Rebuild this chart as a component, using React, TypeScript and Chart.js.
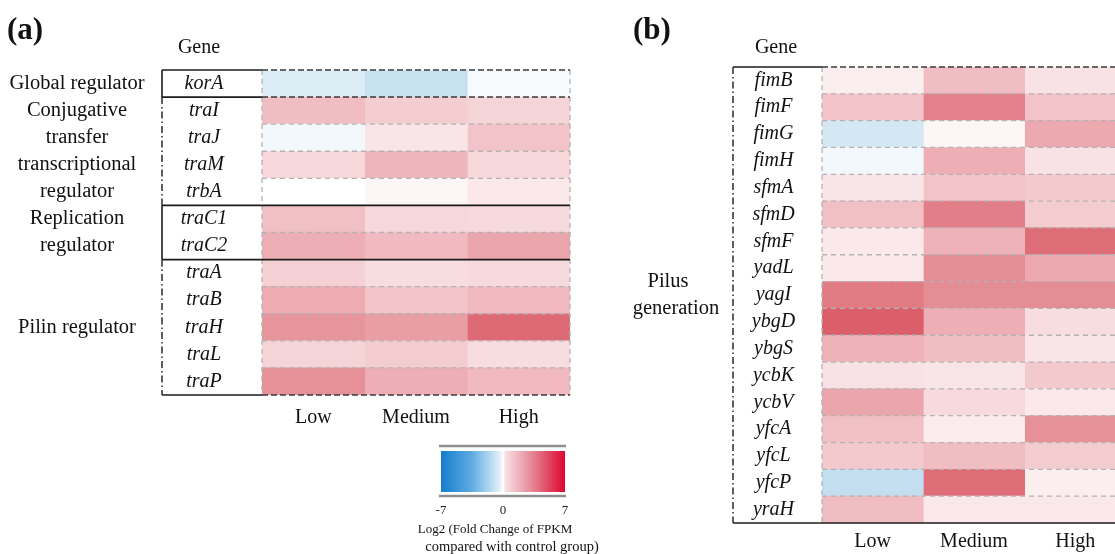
import React, { useEffect, useRef } from 'react';
import { Chart, registerables } from 'chart.js';

Chart.register(...registerables);

const SERIF = '"Liberation Serif", "Times New Roman", serif';

// column categories
const LEVELS = ['Low', 'Medium', 'High'];

// ---------- panel (a) ----------
const GENES_A = ['korA', 'traI', 'traJ', 'traM', 'trbA', 'traC1', 'traC2', 'traA', 'traB', 'traH', 'traL', 'traP'];
const LOW_A = [-1.1, 2.3, -0.4, 1.4, 0.0, 2.2, 2.8, 1.6, 2.9, 3.7, 1.5, 3.9];
const MEDIUM_A = [-1.8, 1.75, 0.9, 2.6, 0.3, 1.4, 2.4, 1.2, 2.1, 3.4, 1.8, 2.8];
const HIGH_A = [-0.3, 1.5, 2.1, 1.4, 0.8, 1.3, 3.1, 1.3, 2.4, 5.2, 1.2, 2.4];
const GROUPS_A = [
  { lines: ['Global regulator'], from: 0, to: 0, edge: 'solid' },
  { lines: ['Conjugative', 'transfer', 'transcriptional', 'regulator'], from: 1, to: 4, edge: 'dashdot' },
  { lines: ['Replication', 'regulator'], from: 5, to: 6, edge: 'solid' },
  { lines: ['Pilin regulator'], from: 7, to: 11, edge: 'dashdot' },
];
const RULES_A = [
  { at: 0, label: 'solid', heat: 'dash' },
  { at: 1, label: 'solid', heat: 'dash' },
  { at: 5, label: 'solid', heat: 'solid' },
  { at: 7, label: 'solid', heat: 'solid' },
  { at: 12, label: 'solid', heat: 'dash' },
];

// ---------- panel (b) ----------
const GENES_B = ['fimB', 'fimF', 'fimG', 'fimH', 'sfmA', 'sfmD', 'sfmF', 'yadL', 'yagI', 'ybgD', 'ybgS', 'ycbK', 'ycbV', 'yfcA', 'yfcL', 'yfcP', 'yraH'];
const LOW_B = [0.6, 2.1, -1.4, -0.4, 0.9, 2.2, 0.8, 0.8, 4.6, 5.6, 2.7, 1.0, 3.1, 2.2, 1.9, -2.0, 2.3];
const MEDIUM_B = [2.3, 4.4, 0.3, 2.8, 2.1, 4.5, 2.7, 4.0, 4.0, 2.8, 2.3, 0.9, 1.3, 0.7, 2.3, 5.1, 0.8];
const HIGH_B = [1.0, 2.1, 3.0, 1.0, 1.9, 1.8, 5.1, 3.0, 4.0, 1.2, 0.9, 1.9, 0.8, 3.9, 1.8, 0.6, 0.8];
const GROUPS_B = [
  { lines: ['Pilus', 'generation'], from: 0, to: 16, edge: 'dashdot' },
];
const RULES_B = [
  { at: 0, label: 'solid', heat: 'dash' },
  { at: 17, label: 'solid', heat: 'solid' },
];

// ---------- colour scale ----------
const SCALE_RANGE = [-7, 7];
const SCALE_TICKS = [-7, 0, 7];
const SCALE_TITLE = ['Log2 (Fold Change of FPKM', 'compared with control group)'];
const COLORBAR_STOPS: [number, string][] = [
  [-7, 'rgb(20,126,204)'],
  [-3.5, 'rgb(96,172,226)'],
  [-0.3, 'rgb(228,241,249)'],
  [0, 'rgb(255,255,255)'],
  [0.3, 'rgb(247,222,226)'],
  [3.5, 'rgb(228,128,143)'],
  [7, 'rgb(222,6,45)'],
];
const CELL_POS = [210, 55, 70];
const CELL_NEG = [40, 140, 200];

function cellColor(v: number) {
  const t = Math.min(1, Math.abs(v) / SCALE_RANGE[1]);
  const end = v >= 0 ? CELL_POS : CELL_NEG;
  const c = end.map((ch) => Math.round(255 + (ch - 255) * t));
  return `rgb(${c[0]},${c[1]},${c[2]})`;
}

const LINE_STYLES: any = {
  solid: { color: '#1b1b1b', width: 1.6, dash: [] },
  dash: { color: '#3a3a3a', width: 1.5, dash: [6, 3] },
  gray: { color: '#b3b3b3', width: 1.3, dash: [5, 4] },
  dashdot: { color: '#2a2a2a', width: 1.5, dash: [7, 3, 1.5, 3] },
};

function widestLabel(labels: string[], font: string) {
  const c = document.createElement('canvas').getContext('2d')!;
  c.font = font;
  return Math.max(...labels.map((l) => c.measureText(l).width));
}

function heatConfig(p: any): any {
  const widest = widestLabel(p.genes, `italic 20px ${SERIF}`);
  const yPad = Math.max(0, p.labelW / 2 - widest / 2 - p.geneNudge);
  const decor = {
    id: 'heatDecor',
    afterDraw(chart: any) {
      const { ctx, chartArea: ca } = chart;
      const y = chart.scales.y;
      const n = p.genes.length;
      const rowH = (ca.bottom - ca.top) / n;
      const edge = (i: number) => (i < n ? y.getPixelForValue(i) - rowH / 2 : y.getPixelForValue(n - 1) + rowH / 2);
      const left = y.left;
      const stroke = (x1: number, y1: number, x2: number, y2: number, name: string) => {
        const s = LINE_STYLES[name];
        ctx.save();
        ctx.strokeStyle = s.color;
        ctx.lineWidth = s.width;
        ctx.setLineDash(s.dash);
        ctx.beginPath();
        ctx.moveTo(x1, y1);
        ctx.lineTo(x2, y2);
        ctx.stroke();
        ctx.restore();
      };
      const ruled = new Set(p.rules.map((r: any) => r.at));
      for (let i = 1; i < n; i++) if (!ruled.has(i)) stroke(ca.left, edge(i), ca.right, edge(i), 'gray');
      stroke(ca.left, ca.top, ca.left, ca.bottom, 'gray');
      stroke(ca.right, ca.top, ca.right, ca.bottom, 'gray');
      p.rules.forEach((r: any) => {
        const yy = edge(r.at);
        stroke(left, yy, ca.left, yy, r.label);
        stroke(ca.left, yy, ca.right, yy, r.heat);
      });
      p.groups.forEach((g: any) => stroke(left, edge(g.from), left, edge(g.to + 1), g.edge));

      ctx.save();
      ctx.fillStyle = '#111';
      ctx.textAlign = 'center';
      ctx.textBaseline = 'middle';
      ctx.font = `20.5px ${SERIF}`;
      p.groups.forEach((g: any) => {
        const mid = (edge(g.from) + edge(g.to + 1)) / 2;
        g.lines.forEach((t: string, k: number) => {
          const dx = g.lines.length > 1 && p.groupStagger ? (k === 0 ? -p.groupStagger : p.groupStagger) : 0;
          ctx.fillText(t, p.groupX + dx, mid + (k - (g.lines.length - 1) / 2) * rowH);
        });
      });
      ctx.font = `20px ${SERIF}`;
      ctx.fillText('Gene', p.geneX, p.geneY);
      ctx.font = `bold 31px ${SERIF}`;
      ctx.textAlign = 'left';
      ctx.fillText(p.panel, p.panelX, p.panelY);
      ctx.restore();
    },
  };
  return {
    type: 'bar',
    data: {
      labels: p.genes,
      datasets: p.cols.map((vals: number[], j: number) => ({
        label: LEVELS[j],
        data: vals.map(() => 1),
        backgroundColor: vals.map(cellColor),
        borderWidth: 0,
        categoryPercentage: 1,
        barPercentage: 1,
      })),
    },
    options: {
      indexAxis: 'y',
      responsive: false,
      animation: false,
      layout: { padding: p.padding },
      plugins: { legend: { display: false }, tooltip: { enabled: false } },
      scales: {
        x: {
          type: 'linear',
          stacked: true,
          min: 0,
          max: LEVELS.length,
          grid: { display: false, drawTicks: false },
          border: { display: false },
          afterBuildTicks: (s: any) => {
            s.ticks = LEVELS.map((_, i) => ({ value: i + 0.5 }));
          },
          afterFit: (s: any) => {
            s.height = p.xAxisH;
          },
          ticks: {
            font: { family: SERIF, size: 20 },
            color: '#111',
            padding: p.xTickPad,
            maxRotation: 0,
            autoSkip: false,
            callback: (_v: any, i: number) => LEVELS[i],
          },
        },
        y: {
          type: 'category',
          stacked: true,
          grid: { display: false },
          border: { display: false },
          afterFit: (s: any) => {
            s.width = p.labelW;
            s.paddingTop = 0;
            s.paddingBottom = 0;
          },
          ticks: {
            font: { family: SERIF, size: 20, style: 'italic' },
            color: '#111',
            padding: yPad,
            crossAlign: 'center',
            autoSkip: false,
          },
        },
      },
    },
    plugins: [decor],
  };
}

function colorbarConfig(): any {
  const frame = {
    id: 'cbFrame',
    afterDraw(chart: any) {
      const { ctx, chartArea: ca } = chart;
      ctx.save();
      ctx.strokeStyle = '#8e8e8e';
      ctx.lineWidth = 2.5;
      ctx.beginPath();
      ctx.moveTo(ca.left - 2, ca.top - 5);
      ctx.lineTo(ca.right + 1, ca.top - 5);
      ctx.moveTo(ca.left - 2, ca.bottom + 4);
      ctx.lineTo(ca.right + 1, ca.bottom + 4);
      ctx.stroke();
      // caption below the scale
      const cx = (ca.left + ca.right) / 2;
      ctx.fillStyle = '#111';
      ctx.textAlign = 'center';
      ctx.textBaseline = 'middle';
      ctx.font = `13px ${SERIF}`;
      ctx.fillText(SCALE_TITLE[0], cx - 8, ca.bottom + 38);
      ctx.font = `14.5px ${SERIF}`;
      ctx.fillText(SCALE_TITLE[1], cx + 9, ca.bottom + 55);
      ctx.restore();
    },
  };
  return {
    type: 'bar',
    data: {
      labels: [''],
      datasets: [
        {
          data: [SCALE_RANGE],
          backgroundColor: (context: any) => {
            const chart = context.chart;
            if (!chart.chartArea) return 'rgba(0,0,0,0)';
            const xs = chart.scales.x;
            const g = chart.ctx.createLinearGradient(xs.getPixelForValue(SCALE_RANGE[0]), 0, xs.getPixelForValue(SCALE_RANGE[1]), 0);
            COLORBAR_STOPS.forEach(([v, c]) => g.addColorStop((v - SCALE_RANGE[0]) / (SCALE_RANGE[1] - SCALE_RANGE[0]), c));
            return g;
          },
          borderWidth: 0,
          categoryPercentage: 1,
          barPercentage: 1,
        },
      ],
    },
    options: {
      indexAxis: 'y',
      responsive: false,
      animation: false,
      layout: { padding: { left: 41, right: 55, top: 21, bottom: 8 } },
      plugins: { legend: { display: false }, tooltip: { enabled: false } },
      scales: {
        x: {
          type: 'linear',
          min: SCALE_RANGE[0],
          max: SCALE_RANGE[1],
          grid: { display: false, drawTicks: false },
          border: { display: false },
          afterBuildTicks: (s: any) => {
            s.ticks = SCALE_TICKS.map((v) => ({ value: v }));
          },
          afterFit: (s: any) => {
            s.height = 64;
          },
          ticks: {
            font: { family: SERIF, size: 13 },
            color: '#222',
            padding: 11,
            maxRotation: 0,
            autoSkip: false,
            callback: (v: any) => String(v),
          },
        },
        y: { display: false },
      },
    },
    plugins: [frame],
  };
}

export default function App() {
  const aRef = useRef<HTMLCanvasElement>(null);
  const bRef = useRef<HTMLCanvasElement>(null);
  const cRef = useRef<HTMLCanvasElement>(null);

  useEffect(() => {
    const charts = [
      new Chart(
        aRef.current!,
        heatConfig({
          genes: GENES_A,
          cols: [LOW_A, MEDIUM_A, HIGH_A],
          groups: GROUPS_A,
          rules: RULES_A,
          labelW: 100,
          geneNudge: 0,
          padding: { left: 162, top: 70, right: 30, bottom: 119 },
          xAxisH: 40,
          xTickPad: 11,
          groupX: 77,
          groupStagger: 0,
          geneX: 199,
          geneY: 48,
          panel: '(a)',
          panelX: 7,
          panelY: 31,
        })
      ),
      new Chart(
        bRef.current!,
        heatConfig({
          genes: GENES_B,
          cols: [LOW_B, MEDIUM_B, HIGH_B],
          groups: GROUPS_B,
          rules: RULES_B,
          labelW: 89,
          geneNudge: 4,
          padding: { left: 113, top: 67, right: 14, bottom: 0 },
          xAxisH: 31,
          xTickPad: 7,
          groupX: 52,
          groupStagger: 4,
          geneX: 156,
          geneY: 48,
          panel: '(b)',
          panelX: 13,
          panelY: 31,
        })
      ),
      new Chart(cRef.current!, colorbarConfig()),
    ];
    return () => charts.forEach((c) => c.destroy());
  }, []);

  return (
    <div
      style={{
        position: 'absolute',
        left: 0,
        top: 0,
        width: 1115,
        height: 554,
        overflow: 'hidden',
        background: '#ffffff',
      }}
    >
      <canvas ref={aRef} width={600} height={554} style={{ position: 'absolute', left: 0, top: 0 }} />
      <canvas ref={bRef} width={520} height={554} style={{ position: 'absolute', left: 620, top: 0 }} />
      <canvas ref={cRef} width={220} height={134} style={{ position: 'absolute', left: 400, top: 430 }} />
    </div>
  );
}
